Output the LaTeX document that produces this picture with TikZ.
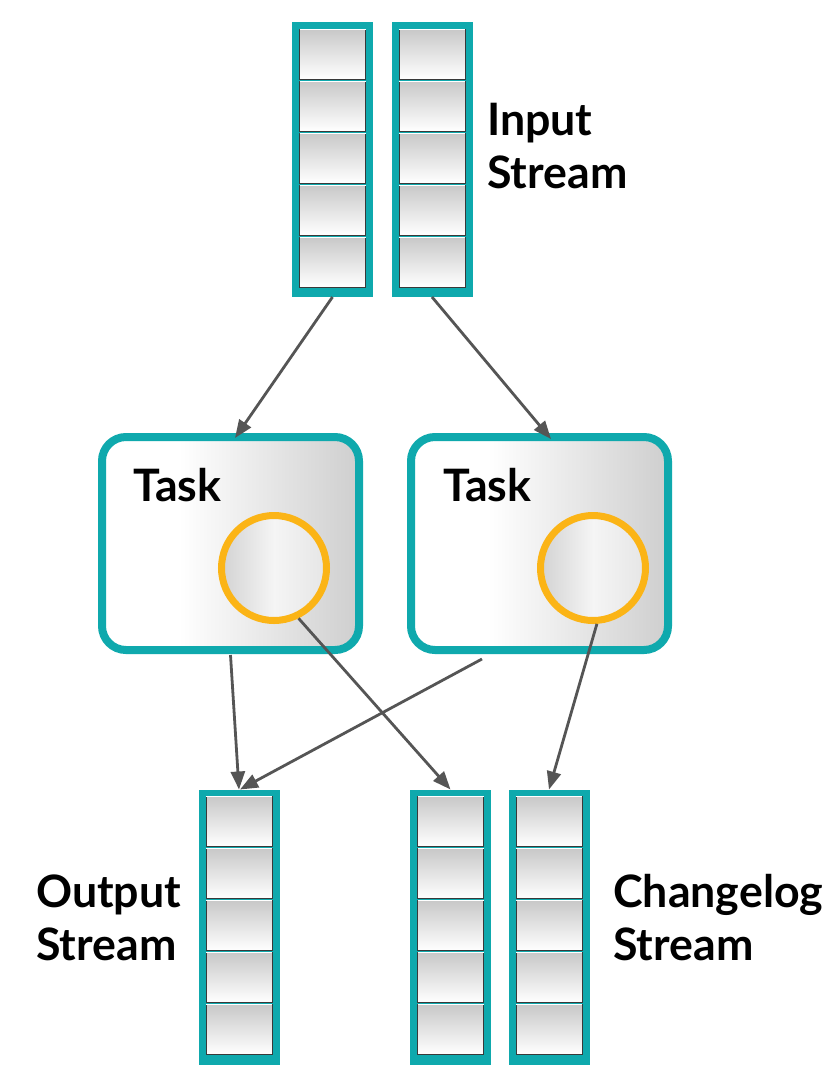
\documentclass[tikz,border=0pt]{standalone}
\usepackage{fontspec}
\setmainfont{Lato}
\usetikzlibrary{arrows.meta,calc}
\definecolor{teal1}{HTML}{0FA9AD}
\definecolor{ring}{HTML}{FBB416}
\definecolor{arrgray}{HTML}{555555}
\definecolor{cellgray}{HTML}{C8C8C8}
\pgfdeclarehorizontalshading{taskshade}{100bp}{color(0bp)=(white); color(40bp)=(white); color(75bp)=(gray!38); color(100bp)=(gray!38)}
\pgfdeclarehorizontalshading{circshade}{100bp}{color(0bp)=(gray!35); color(25bp)=(gray!35); color(50bp)=(gray!8); color(75bp)=(gray!20); color(100bp)=(gray!20)}
\tikzset{
 streambox/.style={rectangle, fill=teal1, minimum width=81pt, minimum height=275pt, inner sep=0pt, outer sep=0pt},
 cellbox/.style={rectangle, minimum width=66pt, minimum height=50pt, inner sep=0pt, outer sep=0pt, top color=cellgray, bottom color=white, draw=gray!45!black, line width=0.9pt},
 taskbox/.style={rectangle, rounded corners=24pt, draw=teal1, line width=8pt, shading=taskshade, minimum width=257pt, minimum height=213pt, inner sep=0pt},
 store/.style={circle, draw=ring, line width=7pt, shading=circshade, minimum size=105pt, inner sep=0pt},
 lbl/.style={font=\bfseries\fontsize{44.7}{53}\selectfont, align=left, inner sep=0pt, anchor=base west},
 arr/.style={draw=arrgray, line width=2.8pt, -{Triangle[length=18pt,width=14pt]}},
}
\newcommand\mycells[1]{%
  \foreach \k in {0,...,4}{%
    \node[cellbox] (#1c\k) at ($(#1.north)+(0,32+52*\k)$) {};
    \draw[white, line width=1pt] (#1c\k.north west) -- (#1c\k.north east);
  }}
\begin{document}
\begin{tikzpicture}[x=1pt,y=-1pt]
\useasboundingbox[fill=white] (0,0) rectangle (834,1088);
% streams
\node[streambox] (in1) at (332.5,159.5) {};
\node[streambox] (in2) at (432,159.5) {};
\node[streambox] (out1) at (239,927) {};
\node[streambox] (out2) at (450.5,927) {};
\node[streambox] (out3) at (549,927) {};
\mycells{in1}\mycells{in2}\mycells{out1}\mycells{out2}\mycells{out3}
% tasks
\node[taskbox] (task1) at (230.5,543.5) {};
\node[taskbox] (task2) at (539.5,543.5) {};
\node[store] (store1) at (274,568) {};
\node[store] (store2) at (593,568) {};
\node[lbl] (t1) at (133,501) {Task};
\node[lbl] (t2) at (443,501) {Task};
% labels
\node[lbl] (lin) at (487,188) {Input\\Stream};
\node[lbl] (lout) at (36,960) {Output\\Stream};
\node[lbl] (lchg) at (613,960) {Changelog\\Stream};
% arrows
\draw[arr] (in1.south) -- ([xshift=4.5pt,yshift=-5pt]task1.north);
\draw[arr] (in2.south) -- ([xshift=11.5pt,yshift=-6pt]task2.north);
\draw[arr] ([yshift=-1pt]task1.south) -- (out1.north);
\draw[arr] ([xshift=-57.5pt,yshift=-5pt]task2.south) -- ([xshift=1pt]out1.north);
\draw[arr] (store1.-64) -- (out2.north);
\draw[arr] (store2.-86) -- (out3.north);
\end{tikzpicture}
\end{document}
